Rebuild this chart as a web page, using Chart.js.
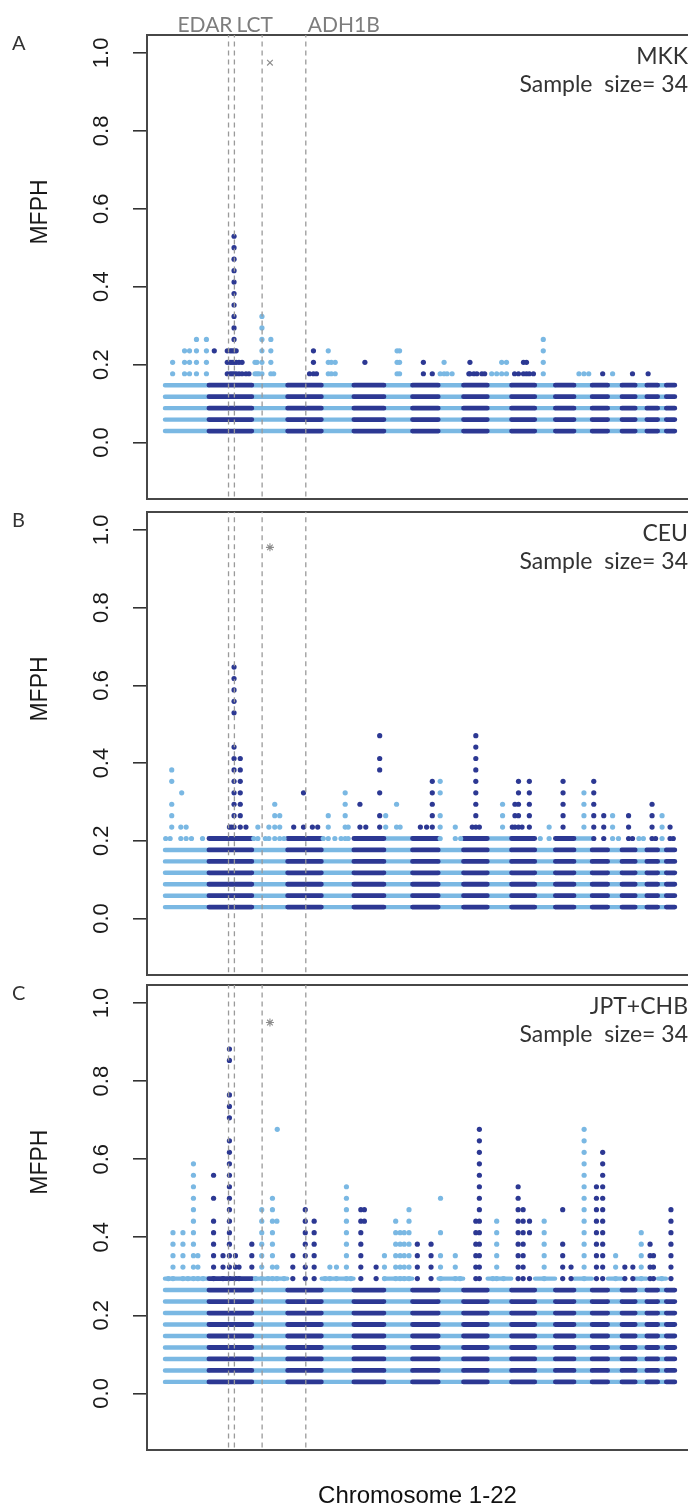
<!DOCTYPE html>
<html>
<head>
<meta charset="utf-8">
<script src="https://cdn.jsdelivr.net/npm/chart.js@4.4.1/dist/chart.umd.min.js"></script>
<style>
  body { margin: 0; background: #fff; width: 693px; height: 1511px; overflow: hidden; position: relative; }
  canvas { position: absolute; left: 0; }
</style>
</head>
<body>
<canvas id="panel-a" width="693" height="505" style="top:0"></canvas>
<canvas id="panel-b" width="693" height="475" style="top:505px"></canvas>
<canvas id="panel-c" width="693" height="531" style="top:980px"></canvas>
<script>
// chromosome lengths in Mb (chr1..chr22)
const chrLengths = [247.2, 242.8, 199.5, 191.3, 180.9, 170.9, 158.8, 146.3, 140.3, 135.4, 134.5,
                    132.3, 114.1, 106.4, 100.3, 88.8, 78.8, 76.1, 63.8, 62.4, 46.9, 49.7];
const sampleSize = 34;
const yTicks = [0, 0.2, 0.4, 0.6, 0.8, 1.0];

// number of filled MFPH steps (k/34) per chromosome
const bandA = [5, 5, 5, 5, 5, 5, 5, 5, 5, 5, 5, 5, 5, 5, 5, 5, 5, 5, 5, 5, 5, 5];
const bandB = [6, 7, 6, 7, 6, 7, 7, 7, 6, 7, 7, 7, 6, 7, 7, 6, 6, 6, 6, 6, 6, 6];
const bandC = [10, 10, 10, 9, 10, 9, 10, 9, 10, 9, 10, 9, 10, 9, 10, 9, 10, 9, 10, 9, 10, 9];

// higher SNPs: [chromosome, position Mb, lowest step, highest step]
const hitsA = [
  [1,44,6,7],[1,111,6,8],[1,139,6,8],[1,178,6,9],[1,234,6,9],
  [2,31,8,8],[2,104,6,8],[2,120,6,8],[2,131,6,8],[2,142,6,18],[2,154,6,8],[2,170,6,7],[2,187,6,7],[2,209,6,6],[2,226,6,6],
  [3,17,6,7],[3,28,6,7],[3,39,6,6],[3,56,6,11],[3,106,6,9],[3,122,6,6],
  [4,124,6,6],[4,146,6,8],[4,163,6,6],
  [5,38,6,8],[5,55,6,7],[5,77,6,7],
  [6,63,7,7],
  [7,73,6,8],[7,87,6,8],
  [8,62,6,7],[8,112,6,6],
  [9,10,6,6],[9,32,6,7],[9,49,6,6],[9,77,6,6],
  [10,31,6,6],[10,37,6,7],[10,59,6,6],[10,76,6,6],[10,104,6,6],[10,120,6,6],
  [11,24,6,6],[11,52,6,6],[11,80,6,7],[11,107,6,7],
  [12,18,6,6],[12,40,6,6],[12,68,6,7],[12,85,6,7],[12,101,6,6],[12,124,6,6],
  [13,47,6,9],
  [15,27,6,6],[15,55,6,6],[15,82,6,6],
  [16,60,6,6],[17,27,6,6],[18,60,6,6],[20,8,6,6]
];
const hitsB = [
  [1,5,7,7],[1,30,7,7],[1,39,8,10],[1,39,12,13],[1,90,7,8],[1,95,11,11],[1,120,7,8],[1,150,7,7],[1,212,7,7],
  [2,116,8,8],[2,128,8,8],[2,142,8,15],[2,142,18,22],[2,177,8,14],[2,209,8,8],
  [3,10,7,7],[3,33,7,8],[3,75,7,7],[3,95,7,8],[3,128,7,10],[3,156,7,9],[3,180,7,7],
  [4,35,8,8],[4,90,8,8],[4,90,11,11],[4,140,8,8],[4,170,8,8],
  [5,10,7,7],[5,38,7,9],[5,75,7,7],[5,110,7,7],[5,133,7,11],[5,150,7,8],
  [6,35,8,8],[6,35,10,10],[6,68,8,8],[6,146,8,9],[6,146,11,11],[6,146,13,14],[6,146,16,16],
  [7,9,8,9],[7,70,8,8],[7,70,10,10],[7,90,8,8],
  [8,45,8,8],[8,80,8,8],[8,112,8,12],
  [9,10,7,9],[9,10,11,12],[9,95,7,8],[9,125,7,7],
  [10,50,8,8],[10,70,8,16],[10,90,8,8],
  [11,85,8,10],
  [12,5,8,8],[12,20,8,10],[12,40,8,12],[12,60,8,8],[12,101,8,12],
  [13,30,7,7],[13,80,7,8],
  [14,44,8,12],
  [15,55,8,11],
  [16,10,7,12],[16,66,7,9],
  [17,27,7,9],[17,60,7,7],
  [18,38,7,9],[18,60,7,7],
  [19,20,7,7],[19,45,7,7],
  [20,30,7,10],[20,50,7,7],
  [21,24,7,9],
  [22,22,7,8],[22,40,7,7]
];
const hitsC = [
  [1,20,10,10],[1,46,10,14],[1,102,10,14],[1,130,10,10],[1,161,10,20],[1,186,10,12],[1,215,10,10],
  [2,27,10,15],[2,27,17,17],[2,27,19,19],[2,80,10,12],[2,116,10,22],[2,116,24,26],[2,116,29,30],
  [2,150,10,12],[2,170,10,11],[2,242,11,13],
  [3,20,10,10],[3,55,10,16],[3,90,10,10],[3,115,10,17],[3,140,10,11],[3,140,15,15],[3,142,23,23],[3,180,10,10],
  [4,30,10,12],[4,100,10,16],[4,150,10,15],
  [5,20,10,10],[5,47,10,11],[5,84,10,11],[5,140,10,18],[5,165,10,10],
  [6,40,10,16],[6,60,15,16],[6,126,10,11],
  [7,2,10,12],[7,65,10,15],[7,90,10,14],[7,113,10,14],[7,140,10,16],
  [8,28,10,13],[8,105,10,13],
  [9,12,10,12],[9,12,14,14],[9,12,17,17],[9,95,10,12],[9,122,10,10],
  [10,70,10,15],[10,90,10,23],
  [11,30,10,10],[11,52,10,15],[11,90,10,10],
  [12,38,10,18],[12,66,10,16],[12,102,10,10],[12,102,14,15],
  [13,52,10,15],
  [14,42,10,13],[14,42,16,16],[14,89,10,11],
  [15,56,10,23],
  [16,25,10,18],[16,60,10,21],
  [17,44,10,12],
  [18,17,10,11],[18,62,10,11],
  [19,33,10,14],
  [20,19,10,13],[20,38,10,12],
  [21,22,10,10],
  [22,27,10,16]
];

// candidate loci: [chromosome, position Mb], and their labels
const lociPos = [[2,111],[2,144],[3,57],[4,103]];
const lociNames = ['EDAR','LCT','','ADH1B'];
// asterisk marks: [chromosome, position Mb, MFPH]
const starA = [3, 101, 0.975];
const starB = [3, 101, 0.955];
const starC = [3, 101, 0.95];

const populations = ['MKK', 'CEU', 'JPT+CHB'];
const panelLetters = ['A', 'B', 'C'];

const LIGHT = '#7ab8e3';
const DARK = '#2c3893';
const chrStart = [];
chrLengths.reduce((acc, len, i) => { chrStart[i] = acc; return acc + len; }, 0);
const gx = (c, pos) => chrStart[c - 1] + pos;

function bandData(bands, parity) {
  const pts = [];
  bands.forEach((n, i) => {
    if (i % 2 !== parity) return;
    for (let k = 1; k <= n; k++) {
      pts.push({x: chrStart[i] + 1, y: k / sampleSize});
      pts.push({x: chrStart[i] + chrLengths[i] - 1, y: k / sampleSize});
      pts.push({x: chrStart[i] + chrLengths[i], y: null});
    }
  });
  return pts;
}

function hitData(hits, parity) {
  const pts = [];
  hits.forEach(([c, pos, lo, hi]) => {
    if ((c - 1) % 2 !== parity) return;
    for (let k = lo; k <= hi; k++) pts.push({x: gx(c, pos), y: k / sampleSize});
  });
  return pts;
}

const FONT_R = '"Liberation Sans", Arial, sans-serif';
const FONT_M = 'Lato, "Noto Sans", sans-serif';

const panelText = {
  id: 'panelText',
  afterDraw(chart, args, opts) {
    const {ctx, chartArea, scales} = chart;
    const ys = scales.y, xs = scales.x;
    ctx.save();
    // rotated tick labels
    ctx.fillStyle = '#1a1a1a';
    ctx.font = '22px ' + FONT_R;
    ctx.textAlign = 'center';
    ctx.textBaseline = 'middle';
    yTicks.forEach(v => {
      ctx.save();
      ctx.translate(102, ys.getPixelForValue(v));
      ctx.rotate(-Math.PI / 2);
      ctx.fillText(v.toFixed(1), 0, 0);
      ctx.restore();
    });
    // axis title
    ctx.save();
    ctx.font = '23px ' + FONT_R;
    ctx.translate(41, chartArea.top + 177);
    ctx.rotate(-Math.PI / 2);
    ctx.fillText('MFPH', 0, 0);
    ctx.restore();

    ctx.textBaseline = 'alphabetic';
    ctx.fillStyle = '#333';
    ctx.font = '20px ' + FONT_M;
    ctx.textAlign = 'left';
    ctx.fillText(opts.letter, 12, chartArea.top + 15);

    ctx.font = '23px ' + FONT_M;
    ctx.textAlign = 'right';
    ctx.fillText(opts.pop, 688, chartArea.top + 29);
    ctx.fillText('Sample  size= ' + sampleSize, 688, chartArea.top + 57);

    if (opts.loci) {
      ctx.fillStyle = '#7d7d7d';
      ctx.font = '21px ' + FONT_M;
      lociPos.forEach(([c, pos], i) => {
        if (!lociNames[i]) return;
        const px = xs.getPixelForValue(gx(c, pos));
        ctx.textAlign = i === 0 ? 'right' : 'left';
        ctx.fillText(lociNames[i], i === 0 ? px + 4 : px + 2, chartArea.top - 3);
      });
    }
    if (opts.xTitle) {
      ctx.fillStyle = '#111';
      ctx.font = '24px ' + FONT_R;
      ctx.textAlign = 'center';
      ctx.fillText(opts.xTitle, (chartArea.left + chartArea.right) / 2, chartArea.bottom + 53);
    }
    ctx.restore();
  }
};

function makePanel(id, bands, hits, star, starStyle, idx, padTop, padBottom) {
  const datasets = [];
  datasets.push({
    data: [{x: gx(star[0], star[1]), y: star[2]}],
    pointStyle: starStyle, pointRadius: 4, borderColor: '#8c8c8c', borderWidth: 1.1,
    backgroundColor: 'transparent'
  });
  lociPos.forEach(([c, pos]) => {
    datasets.push({
      data: [{x: gx(c, pos), y: -0.3}, {x: gx(c, pos), y: 1.2}],
      showLine: true, pointRadius: 0, borderColor: '#9a9a9a', borderWidth: 1.3, borderDash: [5, 4]
    });
  });
  datasets.push({data: hitData(hits, 1), pointRadius: 2.6, backgroundColor: DARK, borderWidth: 0});
  datasets.push({data: hitData(hits, 0), pointRadius: 2.6, backgroundColor: LIGHT, borderWidth: 0});
  datasets.push({data: bandData(bands, 1), showLine: true, pointRadius: 0, borderColor: DARK, borderWidth: 4.8, borderCapStyle: 'round'});
  datasets.push({data: bandData(bands, 0), showLine: true, pointRadius: 0, borderColor: LIGHT, borderWidth: 4.4, borderCapStyle: 'round'});

  return new Chart(document.getElementById(id), {
    type: 'scatter',
    data: {datasets},
    options: {
      responsive: false,
      animation: false,
      devicePixelRatio: 1,
      events: [],
      layout: {padding: {top: padTop, bottom: padBottom, left: 0, right: 0}},
      plugins: {
        legend: {display: false},
        tooltip: {enabled: false},
        panelText: {
          letter: panelLetters[idx], pop: populations[idx],
          loci: idx === 0, xTitle: idx === 2 ? 'Chromosome 1-22' : ''
        }
      },
      scales: {
        x: {
          type: 'linear', position: 'bottom', min: -100, max: 2940,
          grid: {display: false},
          ticks: {display: false},
          border: {display: true, color: '#474747', width: 2},
          afterFit: s => { s.height = 0; }
        },
        x2: {
          type: 'linear', position: 'top', min: -100, max: 2940,
          grid: {display: false},
          ticks: {display: false},
          border: {display: true, color: '#474747', width: 2},
          afterFit: s => { s.height = 0; }
        },
        y: {
          min: -0.145, max: 1.046,
          grid: {display: true, drawOnChartArea: false, drawTicks: true, tickLength: 14, color: '#333', lineWidth: 1.6},
          ticks: {display: false},
          border: {display: true, color: '#474747', width: 2},
          afterBuildTicks: s => { s.ticks = yTicks.map(v => ({value: v})); },
          afterFit: s => { s.width = 147; }
        }
      }
    },
    plugins: [panelText]
  });
}

makePanel('panel-a', bandA, hitsA, starA, 'crossRot', 0, 35, 6);
makePanel('panel-b', bandB, hitsB, starB, 'star', 1, 7, 5);
makePanel('panel-c', bandC, hitsC, starC, 'star', 2, 4, 61);
</script>
</body>
</html>
